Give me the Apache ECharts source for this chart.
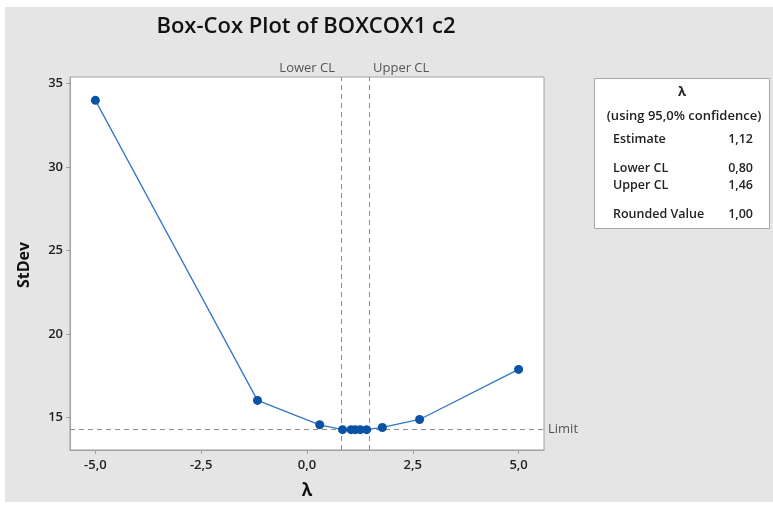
<!DOCTYPE html>
<html>
<head>
<meta charset="utf-8">
<script src="https://cdn.jsdelivr.net/npm/echarts@6/dist/echarts.min.js"></script>
<style>
html,body{margin:0;padding:0;background:#fff;}
#chart{width:773px;height:505px;}
</style>
</head>
<body>
<div id="chart"></div>
<script>
// Box-Cox search: lambda values and the StDev of the transformed data
const lambdas = [-5.0, -1.17, 0.30, 0.84, 1.04, 1.14, 1.26, 1.41, 1.78, 2.66, 5.0];
const stdevs  = [34.0, 16.02, 14.56, 14.27, 14.27, 14.27, 14.27, 14.27, 14.40, 14.88, 17.88];
const xTicks = [-5, -2.5, 0, 2.5, 5];
const yTicks = [15, 20, 25, 30, 35];
const lowerCL = 0.80;
const upperCL = 1.46;
const limitValue = 14.30;
const summaryRows = [
  ['Estimate', '1,12'],
  ['Lower CL', '0,80'],
  ['Upper CL', '1,46'],
  ['Rounded Value', '1,00']
];

const FONT = '"Open Sans", "Noto Sans", sans-serif';
const fmt1 = v => v.toFixed(1).replace('.', ',');

const chart = echarts.init(document.getElementById('chart'));

const rowY = [139, 168, 185, 214];
const boxTexts = [];
boxTexts.push({type:'text', x: 682, y: 92, style:{text:'λ', font:'700 13px ' + FONT, fill:'#222', align:'center', verticalAlign:'middle'}});
boxTexts.push({type:'text', x: 684, y: 116, style:{text:'(using 95,0% confidence)', font:'600 13px ' + FONT, fill:'#222', align:'center', verticalAlign:'middle'}});
summaryRows.forEach((r, i) => {
  boxTexts.push({type:'text', x: 613, y: rowY[i], style:{text:r[0], font:'600 12.5px ' + FONT, fill:'#222', align:'left', verticalAlign:'middle'}});
  boxTexts.push({type:'text', x: 753, y: rowY[i], style:{text:r[1], font:'600 12.5px ' + FONT, fill:'#222', align:'right', verticalAlign:'middle'}});
});

chart.setOption({
  animation: false,
  backgroundColor: '#ffffff',
  graphic: [
    {type:'rect', shape:{x:5, y:7, width:768, height:495}, style:{fill:'#e5e5e5'}, z:-10},
    {type:'rect', shape:{x:594.5, y:78.5, width:175, height:150}, style:{fill:'#ffffff', stroke:'#a8a8a8', lineWidth:1}, z:1},
    ...boxTexts.map(t => Object.assign({z: 2}, t)),
    {type:'text', x: 306, y: 27, style:{text:'Box-Cox Plot of BOXCOX1 c2', font:'600 22px ' + FONT, fill:'#111', align:'center', verticalAlign:'middle'}},
    {type:'text', x: 24, y: 265, rotation: Math.PI/2, style:{text:'StDev', font:'700 16px ' + FONT, fill:'#111', align:'center', verticalAlign:'middle'}},
    {type:'text', x: 307, y: 491, style:{text:'λ', font:'700 17px ' + FONT, fill:'#111', align:'center', verticalAlign:'middle'}},
    {type:'text', x: 335, y: 68, style:{text:'Lower CL', font:'500 13px ' + FONT, fill:'#555', align:'right', verticalAlign:'middle'}},
    {type:'text', x: 373, y: 68, style:{text:'Upper CL', font:'500 13px ' + FONT, fill:'#555', align:'left', verticalAlign:'middle'}}
  ],
  grid: {
    left: 70, right: 229, top: 77, bottom: 55,
    show: true, backgroundColor: '#ffffff', borderColor: '#a0a0a0', borderWidth: 1
  },
  xAxis: {
    type: 'value', min: -5.6, max: 5.6,
    axisLine: {show: true, onZero: false, lineStyle: {color: '#a0a0a0'}},
    axisTick: {show: true, length: 4, lineStyle: {color: '#a0a0a0'}, customValues: xTicks},
    axisLabel: {customValues: xTicks, formatter: v => fmt1(v), color: '#222', fontFamily: FONT, fontSize: 13, fontWeight: 600, margin: 9},
    splitLine: {show: false}
  },
  yAxis: {
    type: 'value', min: 13.05, max: 35.4,
    axisLine: {show: true, onZero: false, lineStyle: {color: '#a0a0a0'}},
    axisTick: {show: true, length: 4, lineStyle: {color: '#a0a0a0'}, customValues: yTicks},
    axisLabel: {customValues: yTicks, formatter: v => String(v), color: '#222', fontFamily: FONT, fontSize: 13, fontWeight: 600, margin: 7},
    splitLine: {show: false}
  },
  series: [{
    type: 'line',
    data: lambdas.map((x, i) => [x, stdevs[i]]),
    symbol: 'circle', symbolSize: 9,
    itemStyle: {color: '#0a52a5'},
    lineStyle: {color: '#3377c6', width: 1.3},
    z: 5,
    markLine: {
      silent: true, symbol: 'none',
      lineStyle: {type: [5, 4], color: '#8c8c8c', width: 1},
      data: [
        {xAxis: lowerCL, label: {show: false}},
        {xAxis: upperCL, label: {show: false}},
        {yAxis: limitValue, label: {show: true, position: 'end', formatter: 'Limit', color: '#555', fontFamily: FONT, fontSize: 13, fontWeight: 500, distance: 4}}
      ]
    }
  }]
});
</script>
</body>
</html>
